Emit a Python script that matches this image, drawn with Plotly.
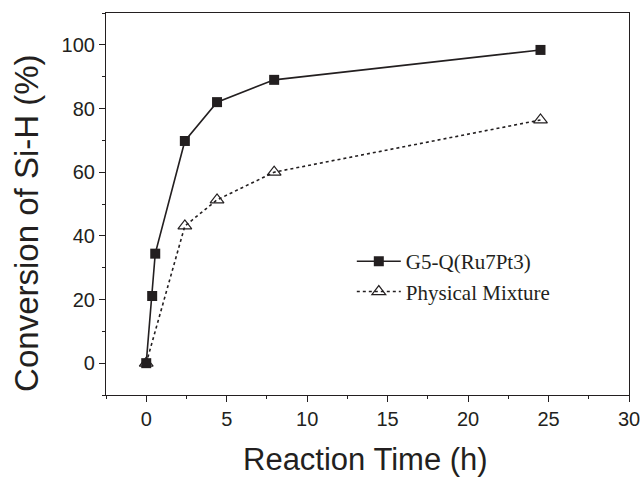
import plotly.graph_objects as go

# Reaction time (h) and Si-H conversion (%)
time_g5 = [0, 0.37, 0.56, 2.4, 4.4, 7.95, 24.5]
conv_g5 = [0, 21.1, 34.4, 69.8, 82.0, 89.0, 98.4]

time_mix = [0, 2.4, 4.4, 7.95, 24.5]
conv_mix = [0, 43.1, 51.3, 60.0, 76.4]

name_g5 = "G5-Q(Ru7Pt3)"
name_mix = "Physical Mixture"

ink = "#231f20"
sans = "Liberation Sans, Arial, sans-serif"

fig = go.Figure()
fig.add_trace(go.Scatter(
    x=time_g5, y=conv_g5, name=name_g5, mode="lines+markers",
    line=dict(color=ink, width=1.6),
    marker=dict(symbol="square", size=10, color=ink),
))
fig.add_trace(go.Scatter(
    x=time_mix, y=conv_mix, name=name_mix, mode="lines+markers",
    line=dict(color=ink, width=1.6, dash="dot"),
    marker=dict(symbol="triangle-up-open", size=12, color=ink, line=dict(width=1.2)),
))

axis_common = dict(
    showline=True, linecolor=ink, linewidth=1.2, mirror=True,
    ticks="outside", ticklen=6, tickwidth=1.2, tickcolor=ink,
    showgrid=False, zeroline=False, automargin=False,
    tickfont=dict(family=sans, size=20, color=ink),
)

fig.update_xaxes(
    range=[-2.5, 30], tickvals=[0, 5, 10, 15, 20, 25, 30],
    minor=dict(ticks="outside", ticklen=3, tickwidth=1.2, tickcolor=ink, dtick=2.5, tick0=0),
    **axis_common,
)
fig.update_yaxes(
    range=[-10, 110], tickvals=[0, 20, 40, 60, 80, 100],
    minor=dict(ticks="outside", ticklen=3, tickwidth=1.2, tickcolor=ink, dtick=10, tick0=0),
    **axis_common,
)

# Axis titles placed as annotations for finer positioning
fig.add_annotation(
    text="Reaction Time (h)", xref="paper", yref="paper",
    x=0.496, y=-0.168, xanchor="center", yanchor="middle", showarrow=False,
    font=dict(family=sans, size=31, color=ink),
)
fig.add_annotation(
    text="Conversion of Si-H (%)", xref="paper", yref="paper",
    x=-0.151, y=0.448, xanchor="center", yanchor="middle", showarrow=False,
    textangle=-90, font=dict(family=sans, size=33, color=ink),
)

fig.update_layout(
    width=641, height=478,
    margin=dict(l=106, r=12, t=13, b=83),
    paper_bgcolor="white", plot_bgcolor="white",
    legend=dict(
        x=0.47, y=0.31, xanchor="left", yanchor="middle",
        bgcolor="rgba(0,0,0,0)", tracegroupgap=0, itemwidth=44,
        font=dict(family="Liberation Serif, Times New Roman, serif", size=21, color=ink),
    ),
)

fig.write_html("out.html")
